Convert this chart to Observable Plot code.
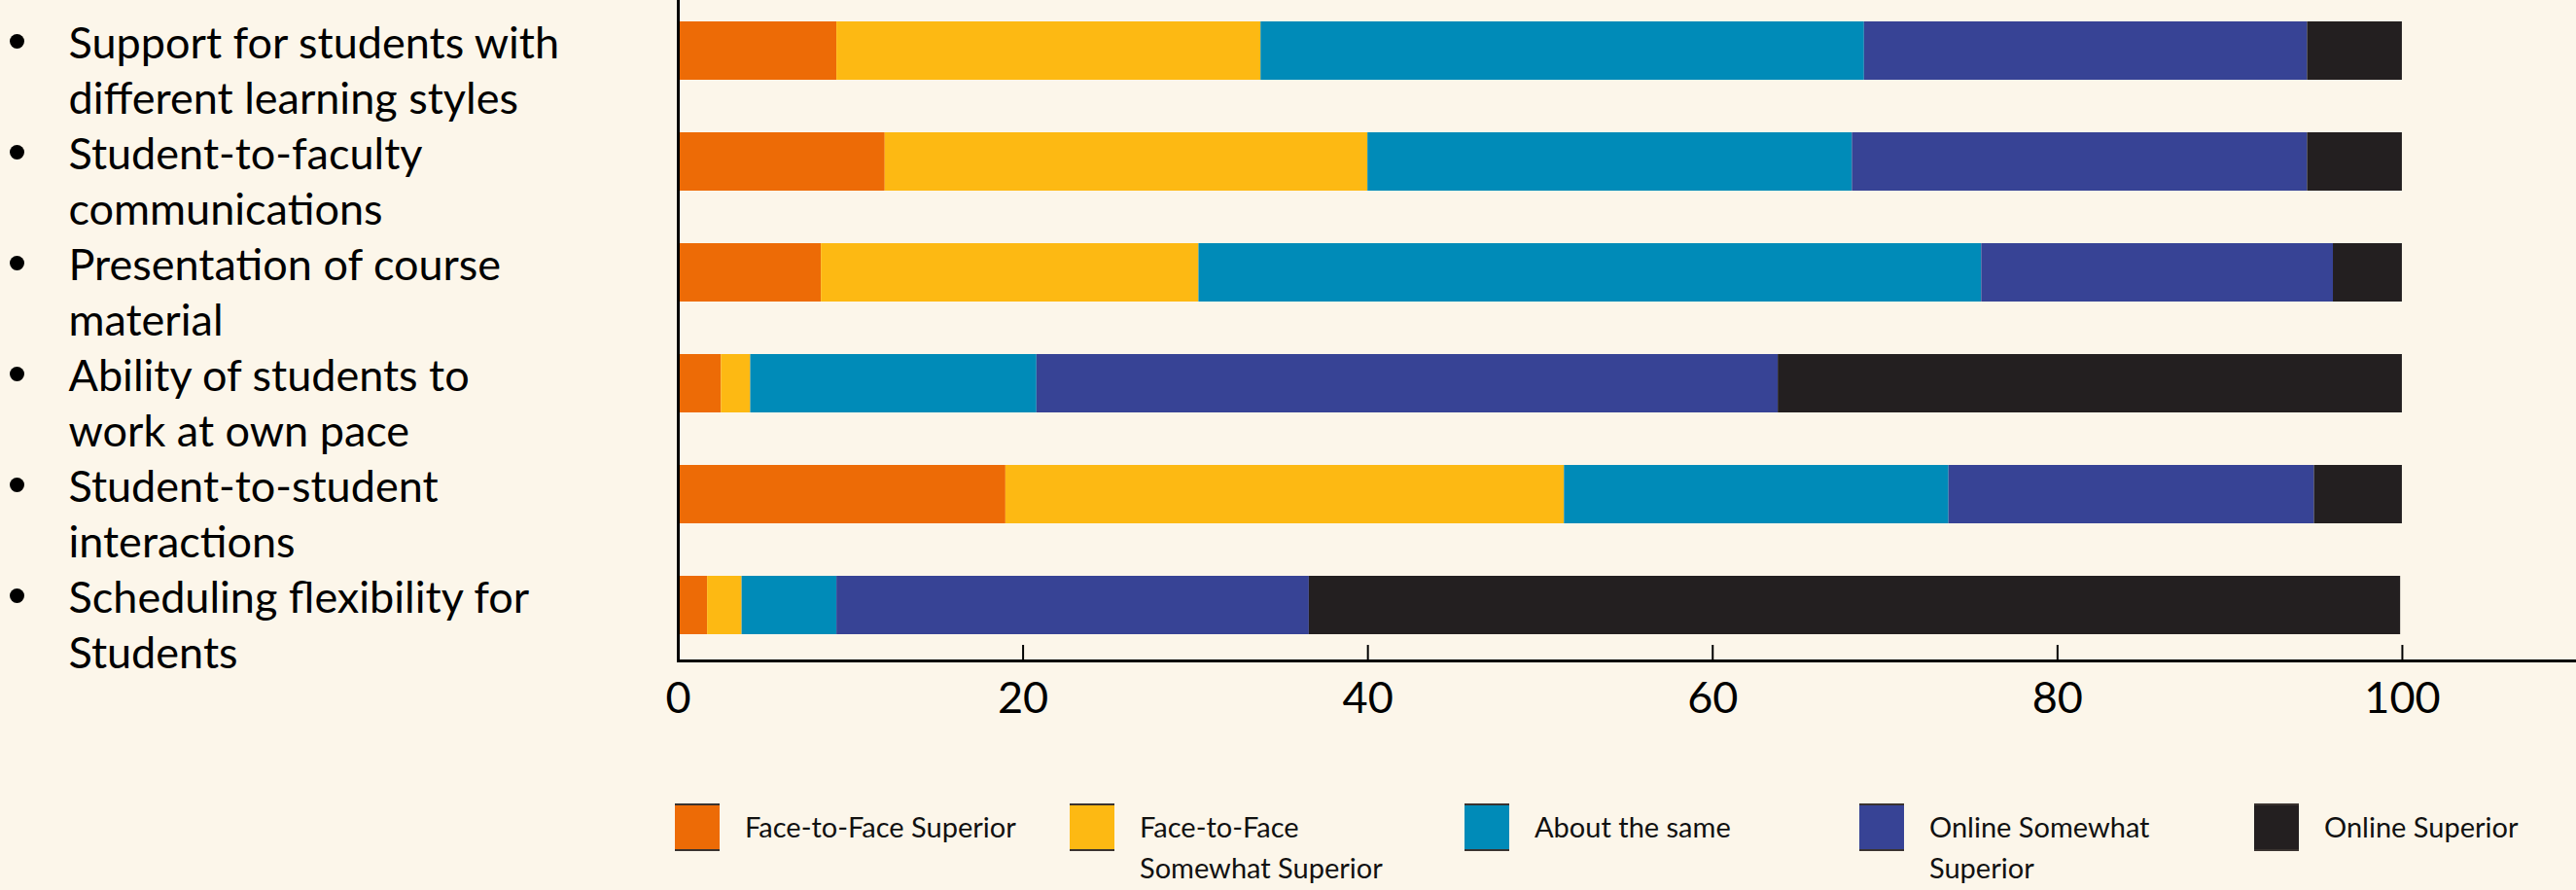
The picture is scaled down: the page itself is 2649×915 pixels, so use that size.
<!DOCTYPE html>
<html>
<head>
<meta charset="utf-8">
<script src="https://cdn.jsdelivr.net/npm/d3@7"></script>
<script src="https://cdn.jsdelivr.net/npm/@observablehq/plot@0.6"></script>
<style>
  html, body { margin: 0; padding: 0; background: #FCF6EA; }
  body { width: 2649px; height: 915px; overflow: hidden; font-family: Lato, "Open Sans", sans-serif; }
  #legend { position: relative; margin-top: 56px; margin-left: 694px; display: flex; width: 2200px; }
  .item { width: 406px; flex: none; display: flex; align-items: flex-start; }
  .sw { width: 46px; height: 49px; flex: none; box-sizing: border-box; border-top: 2px solid #3a3330; border-bottom: 2px solid #3a3330; }
  .lb { margin-left: 26px; font-size: 29px; line-height: 42px; white-space: pre-line; color: #111; margin-top: 3px; }
</style>
</head>
<body>
<div id="chart"></div>
<div id="legend"></div>
<script>
const categories = [
  "Support for students with different learning styles",
  "Student-to-faculty communications",
  "Presentation of course material",
  "Ability of students to work at own pace",
  "Student-to-student interactions",
  "Scheduling flexibility for Students"
];
const yLabels = [
  "Support for students with\ndifferent learning styles",
  "Student-to-faculty\ncommunications",
  "Presentation of course\nmaterial",
  "Ability of students to\nwork at own pace",
  "Student-to-student\ninteractions",
  "Scheduling flexibility for\nStudents"
];
const series = ["Face-to-Face Superior", "Face-to-Face Somewhat Superior", "About the same", "Online Somewhat Superior", "Online Superior"];
const legendLabels = ["Face-to-Face Superior", "Face-to-Face\nSomewhat Superior", "About the same", "Online Somewhat\nSuperior", "Online Superior"];
const colors = ["#ED6B06", "#FDB913", "#008BB8", "#374395", "#231F20"];

const faceSuperior      = [9.2, 12.0, 8.3, 2.5, 19.0, 1.7];
const faceSomewhat      = [24.6, 28.0, 21.9, 1.7, 32.4, 2.0];
const aboutSame         = [35.0, 28.1, 45.4, 16.6, 22.3, 5.5];
const onlineSomewhat    = [25.7, 26.4, 20.4, 43.0, 21.2, 27.4];
const onlineSuperior    = [5.5, 5.5, 4.0, 36.2, 5.1, 63.3];
const xTicks = [0, 20, 40, 60, 80, 100];

const seriesValues = [faceSuperior, faceSomewhat, aboutSame, onlineSomewhat, onlineSuperior];
const table = [];
categories.forEach((c, i) => {
  series.forEach((s, j) => table.push({category: c, series: s, value: seriesValues[j][i]}));
});
const labelOf = new Map(categories.map((c, i) => [c, yLabels[i]]));

const chart = Plot.plot({
  width: 2649,
  height: 770,
  marginLeft: 697,
  marginRight: 0,
  marginTop: 0,
  marginBottom: 91,
  style: {background: "#FCF6EA", fontFamily: "Lato, 'Open Sans', sans-serif", color: "#000"},
  x: {domain: [0, 110.1], axis: null, label: null},
  y: {domain: categories, paddingInner: 0.474, paddingOuter: 0.213, align: 0.453, axis: null, label: null},
  color: {domain: series, range: colors},
  marks: [
    Plot.barX(table, {x: "value", y: "category", fill: "series"}),
    Plot.ruleX([0], {stroke: "#000", strokeWidth: 3}),
    Plot.frame({anchor: "bottom", stroke: "#000", strokeWidth: 3}),
    Plot.tickX(xTicks, {x: d => d, insetTop: 663, stroke: "#000", strokeWidth: 2}),
    Plot.axisX(xTicks, {tickSize: 0, tickPadding: 22, fontSize: 45, fill: "#000", tickFormat: d => d, label: null}),
    Plot.dot(categories, {y: d => d, frameAnchor: "left", dx: -680, dy: -10, r: 7.5, fill: "#000", stroke: null}),
    Plot.text(categories, {y: d => d, text: d => labelOf.get(d), frameAnchor: "left", textAnchor: "start", dx: -627, dy: 18, lineHeight: 1.27, fontSize: 45, fill: "#000"})
  ]
});
document.getElementById("chart").appendChild(chart);

const legend = document.getElementById("legend");
series.forEach((s, i) => {
  const item = document.createElement("div");
  item.className = "item";
  const sw = document.createElement("div");
  sw.className = "sw";
  sw.style.background = colors[i];
  const lb = document.createElement("div");
  lb.className = "lb";
  lb.textContent = legendLabels[i];
  item.appendChild(sw);
  item.appendChild(lb);
  legend.appendChild(item);
});
</script>
</body>
</html>
